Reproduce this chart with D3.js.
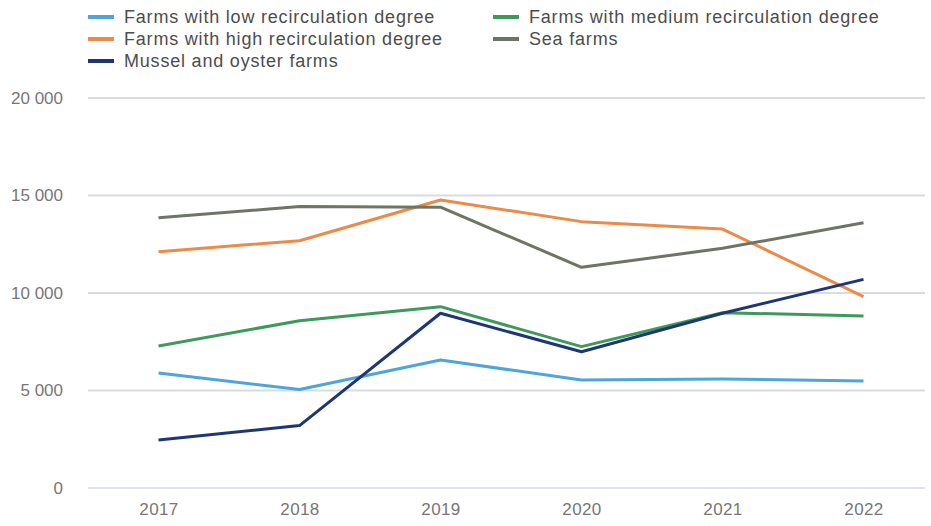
<!DOCTYPE html>
<html>
<head>
<meta charset="utf-8">
<script src="https://cdn.jsdelivr.net/npm/d3@7"></script>
<style>
  html, body { margin: 0; padding: 0; background: #fff; }
  svg { display: block; font-family: "Liberation Sans", Arial, sans-serif; }
</style>
</head>
<body>
<svg id="chart" width="931" height="526"></svg>
<script>
const years = ["2017", "2018", "2019", "2020", "2021", "2022"];
const yTicks = [0, 5000, 10000, 15000, 20000];

const seriesNames = [
  "Farms with low recirculation degree",
  "Farms with medium recirculation degree",
  "Farms with high recirculation degree",
  "Sea farms",
  "Mussel and oyster farms"
];
const lowRecirc    = [5900, 5050, 6560, 5540, 5590, 5490];
const mediumRecirc = [7280, 8580, 9300, 7250, 8990, 8820];
const highRecirc   = [12120, 12680, 14770, 13660, 13280, 9810];
const seaFarms     = [13860, 14430, 14400, 11320, 12290, 13600];
const musselOyster = [2460, 3200, 8960, 6990, 8960, 10700];
const colors = ["#4ea5dc", "#3d9a5b", "#ec8a48", "#6e7466", "#1f3675"];

const seriesValues = [lowRecirc, mediumRecirc, highRecirc, seaFarms, musselOyster];
const series = seriesNames.map((name, i) => ({ name, values: seriesValues[i], color: colors[i] }));

const svg = d3.select("#chart");
const plotLeft = 88, plotRight = 934, plotTop = 98, plotBottom = 488;

const x = d3.scalePoint().domain(years).range([plotLeft, plotRight]).padding(0.5);
const y = d3.scaleLinear().domain([0, 20000]).range([plotBottom, plotTop]);

// thousands separated by a space: 20 000
const fmt = v => d3.format(",")(v).replace(/,/g, " ");

// horizontal gridlines
svg.append("g").selectAll("line").data(yTicks).join("line")
  .attr("x1", plotLeft).attr("x2", 925)
  .attr("y1", d => y(d)).attr("y2", d => y(d))
  .attr("stroke", d => d === 0 ? "#dfe3ee" : "#d9dcdf")
  .attr("stroke-width", 2);

// y axis labels
const yAxis = svg.append("g").attr("transform", `translate(${plotLeft},0)`)
  .call(d3.axisLeft(y).tickValues(yTicks).tickSize(0).tickPadding(25).tickFormat(fmt));
yAxis.select(".domain").remove();
yAxis.selectAll("text").attr("fill", "#777").style("font-size", "17px");

// x axis labels
const xAxis = svg.append("g").attr("transform", `translate(0,${plotBottom})`)
  .call(d3.axisBottom(x).tickSize(0).tickPadding(15));
xAxis.select(".domain").remove();
xAxis.selectAll("text").attr("fill", "#777").style("font-size", "17px")
  .style("letter-spacing", "0.4px");

// series lines
const line = d3.line().x((d, i) => x(years[i])).y(d => y(d));
svg.append("g").selectAll("path").data(series).join("path")
  .attr("d", d => line(d.values))
  .attr("fill", "none")
  .attr("stroke", d => d.color)
  .attr("stroke-width", 3)
  .attr("stroke-linejoin", "round");

// legend, two columns
const legendPos = [
  [88, 17], [493, 17],
  [88, 39], [493, 39],
  [88, 61]
];
const lg = svg.append("g").selectAll("g").data(series).join("g")
  .attr("transform", (d, i) => `translate(${legendPos[i][0]},${legendPos[i][1]})`);
lg.append("line").attr("x1", 0).attr("x2", 26).attr("y1", 0).attr("y2", 0)
  .attr("stroke", d => d.color).attr("stroke-width", 4);
lg.append("text").attr("x", 36).attr("y", 0).attr("dy", "0.35em")
  .attr("fill", "#4d4d4d").style("font-size", "18px")
  .style("letter-spacing", "0.8px")
  .text(d => d.name);
</script>
</body>
</html>
